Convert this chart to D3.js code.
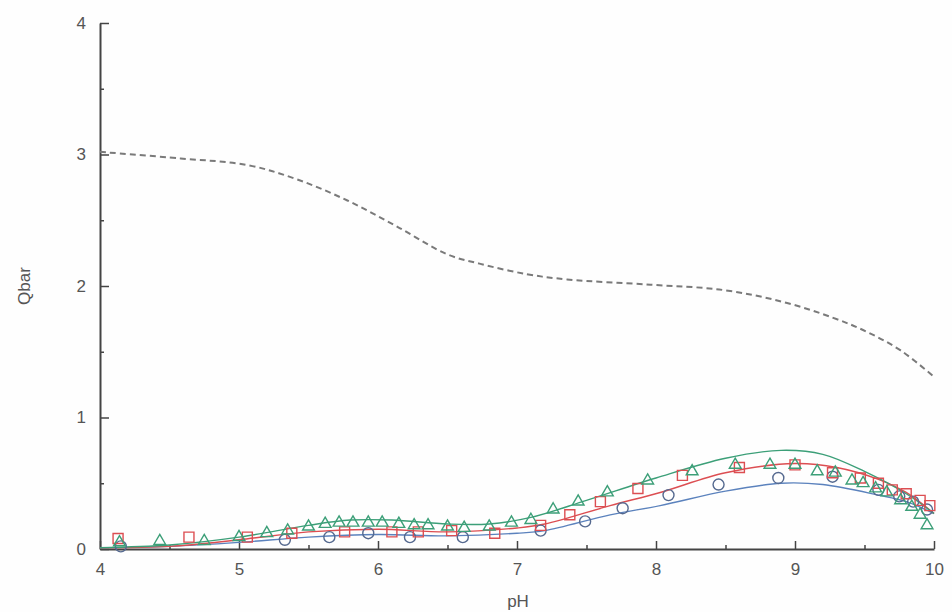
<!DOCTYPE html>
<html>
<head>
<meta charset="utf-8">
<script src="https://cdn.jsdelivr.net/npm/d3@7"></script>
<style>
  html, body { margin: 0; padding: 0; background: #fefefe; }
  svg { display: block; }
  .tick-label { font-family: "Liberation Sans", Arial, sans-serif; font-size: 17px; fill: #555; }
  .axis-title { font-family: "Liberation Sans", Arial, sans-serif; font-size: 17px; fill: #555; }
</style>
</head>
<body>
<svg id="chart" width="952" height="612"></svg>
<script>
// Mean proton count (Qbar) versus pH
const xTicks = [4, 5, 6, 7, 8, 9, 10];
const yTicks = [0, 1, 2, 3, 4];

// Dashed reference curve
const dashedPH = [4.0, 4.58, 5.06, 5.42, 5.78, 6.14, 6.50, 6.73, 7.07, 7.36, 7.96, 8.48, 8.91, 9.27, 9.52, 9.76, 10.0];
const dashedQ  = [3.02, 2.97, 2.92, 2.81, 2.65, 2.45, 2.24, 2.17, 2.09, 2.05, 2.01, 1.97, 1.88, 1.76, 1.65, 1.51, 1.31];

// Fitted curves
const greenPH = [4.0, 4.5, 5.0, 5.5, 5.8, 6.1, 6.5, 6.8, 7.1, 7.5, 8.0, 8.5, 8.9, 9.2, 9.5, 9.8, 10.0];
const greenQ  = [0.01, 0.03, 0.09, 0.18, 0.22, 0.22, 0.19, 0.19, 0.24, 0.37, 0.54, 0.69, 0.75, 0.72, 0.59, 0.42, 0.27];
const redPH   = [4.0, 4.5, 5.0, 5.5, 6.0, 6.5, 7.0, 7.2, 7.67, 8.03, 8.5, 9.0, 9.3, 9.6, 9.8, 10.0];
const redQ    = [0.01, 0.02, 0.07, 0.13, 0.15, 0.13, 0.16, 0.19, 0.33, 0.43, 0.58, 0.65, 0.62, 0.53, 0.43, 0.27];
const bluePH  = [4.0, 4.5, 5.0, 5.5, 6.0, 6.5, 7.0, 7.2, 7.67, 8.03, 8.5, 8.9, 9.2, 9.6, 9.8, 10.0];
const blueQ   = [0.01, 0.02, 0.05, 0.09, 0.11, 0.10, 0.12, 0.14, 0.26, 0.33, 0.44, 0.50, 0.49, 0.41, 0.36, 0.27];

// Measured points
const circlePH = [4.15, 5.33, 5.65, 5.93, 6.23, 6.61, 7.17, 7.49, 7.76, 8.09, 8.45, 8.88, 9.27, 9.6, 9.75, 9.85, 9.95];
const circleQ  = [0.02, 0.07, 0.09, 0.12, 0.09, 0.09, 0.14, 0.21, 0.31, 0.41, 0.49, 0.54, 0.55, 0.45, 0.40, 0.36, 0.30];
const squarePH = [4.13, 4.64, 5.06, 5.38, 5.76, 6.10, 6.29, 6.53, 6.84, 7.17, 7.38, 7.60, 7.87, 8.19, 8.60, 9.00, 9.27, 9.47, 9.60, 9.70, 9.80, 9.90, 9.97];
const squareQ  = [0.08, 0.09, 0.09, 0.12, 0.13, 0.13, 0.13, 0.14, 0.12, 0.18, 0.26, 0.36, 0.46, 0.56, 0.62, 0.64, 0.58, 0.54, 0.50, 0.45, 0.42, 0.37, 0.33];
const triPH = [4.14, 4.43, 4.75, 5.0, 5.2, 5.35, 5.5, 5.62, 5.72, 5.82, 5.93, 6.03, 6.15, 6.26, 6.36, 6.5, 6.62, 6.8, 6.96, 7.1, 7.26, 7.44, 7.65, 7.94, 8.26, 8.57, 8.82, 9.0, 9.16, 9.29, 9.41, 9.49, 9.58, 9.66, 9.76, 9.84, 9.9, 9.95];
const triQ  = [0.05, 0.06, 0.06, 0.09, 0.12, 0.14, 0.17, 0.19, 0.20, 0.20, 0.20, 0.20, 0.19, 0.18, 0.18, 0.17, 0.16, 0.17, 0.20, 0.22, 0.30, 0.36, 0.43, 0.52, 0.59, 0.64, 0.64, 0.64, 0.59, 0.58, 0.52, 0.50, 0.46, 0.43, 0.37, 0.32, 0.26, 0.18];

const colors = { green: "#3c9f78", red: "#dc4e52", blue: "#5b82bd", circle: "#55698f", axis: "#444", dash: "#7a7a7a" };

const svg = d3.select("#chart");
const x = d3.scaleLinear().domain([4, 10]).range([100, 934]);
const y = d3.scaleLinear().domain([0, 4]).range([549, 23]);

const zip = (a, b) => a.map((v, i) => [v, b[i]]);
const line = d3.line().x(d => x(d[0])).y(d => y(d[1])).curve(d3.curveCatmullRom.alpha(0.5));

// Axes
const gx = svg.append("g").attr("transform", `translate(0,${y(0)})`)
  .call(d3.axisBottom(x).tickValues(xTicks).tickSize(-8).tickSizeOuter(0).tickFormat(d3.format("d")));
const gxMinor = svg.append("g").attr("transform", `translate(0,${y(0)})`)
  .call(d3.axisBottom(x).tickValues(d3.range(4.5, 10, 1)).tickSize(-4).tickFormat(""));
const gy = svg.append("g").attr("transform", `translate(${x(4)},0)`)
  .call(d3.axisRight(y).tickValues(yTicks).tickSize(9).tickSizeOuter(0).tickFormat(d3.format("d")));
const gyMinor = svg.append("g").attr("transform", `translate(${x(4)},0)`)
  .call(d3.axisRight(y).tickValues(d3.range(0.5, 4, 1)).tickSize(4).tickFormat(""));

[gx, gxMinor, gy, gyMinor].forEach(g => {
  g.selectAll(".domain").attr("stroke", colors.axis).attr("stroke-width", 2);
  g.selectAll(".tick line").attr("stroke", colors.axis).attr("stroke-width", 1.5);
});
gxMinor.select(".domain").remove();
gyMinor.select(".domain").remove();

gx.selectAll(".tick text").attr("class", "tick-label").attr("y", 14).attr("dy", "0.71em");
gy.selectAll(".tick text").attr("class", "tick-label").attr("x", -14).attr("text-anchor", "end");

// Axis titles
svg.append("text").attr("class", "axis-title").attr("x", 518).attr("y", 607)
  .attr("text-anchor", "middle").text("pH");
svg.append("text").attr("class", "axis-title")
  .attr("transform", `translate(30,${y(2)}) rotate(-90)`)
  .attr("text-anchor", "middle").text("Qbar");

// Dashed curve
svg.append("path").datum(zip(dashedPH, dashedQ)).attr("d", line)
  .attr("fill", "none").attr("stroke", colors.dash).attr("stroke-width", 2).attr("stroke-dasharray", "6,4");

// Fitted curves
[[bluePH, blueQ, colors.blue], [redPH, redQ, colors.red], [greenPH, greenQ, colors.green]].forEach(([px, py, c]) => {
  svg.append("path").datum(zip(px, py)).attr("d", line)
    .attr("fill", "none").attr("stroke", c).attr("stroke-width", 1.4);
});

// Markers
svg.append("g").selectAll("circle").data(zip(circlePH, circleQ)).join("circle")
  .attr("cx", d => x(d[0])).attr("cy", d => y(d[1])).attr("r", 5.5)
  .attr("fill", "none").attr("stroke", colors.circle).attr("stroke-width", 1.4);
svg.append("g").selectAll("path").data(zip(squarePH, squareQ)).join("path")
  .attr("transform", d => `translate(${x(d[0])},${y(d[1])})`)
  .attr("d", d3.symbol(d3.symbolSquare, 100))
  .attr("fill", "none").attr("stroke", colors.red).attr("stroke-width", 1.4);
svg.append("g").selectAll("path").data(zip(triPH, triQ)).join("path")
  .attr("transform", d => `translate(${x(d[0])},${y(d[1])})`)
  .attr("d", d3.symbol(d3.symbolTriangle, 60))
  .attr("fill", "none").attr("stroke", colors.green).attr("stroke-width", 1.4);
</script>
</body>
</html>
